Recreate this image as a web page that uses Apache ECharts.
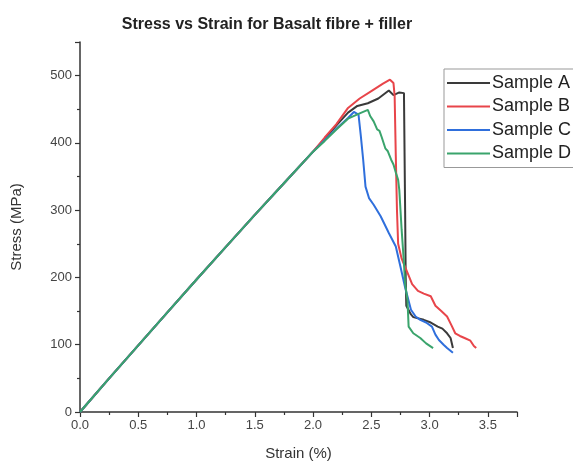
<!DOCTYPE html>
<html>
<head>
<meta charset="utf-8">
<script src="https://cdn.jsdelivr.net/npm/echarts@6/dist/echarts.min.js"></script>
<style>
  html, body { margin: 0; padding: 0; background: #fff; }
  #chart { width: 573px; height: 472px; }
</style>
</head>
<body>
<div id="chart"></div>
<script>
// Shared elastic region (strain %, stress MPa)
const baseStrain = [0, 0.25, 0.5, 0.75, 1.0, 1.25, 1.5, 1.75, 2.0];
const baseStress = [0, 50, 99, 148, 197, 245, 293, 340, 387];

// Sample A
const strainA = [2.1, 2.2, 2.3, 2.38, 2.47, 2.56, 2.65, 2.69, 2.74, 2.78, 2.79, 2.795, 2.80, 2.84, 2.86, 2.95, 3.01, 3.07, 3.11, 3.15, 3.18, 3.20];
const stressA = [406, 426, 445, 455, 459, 466, 478, 471, 475, 474, 300, 200, 158, 145, 141, 137, 133, 127, 124, 117, 110, 95];

// Sample B
const strainB = [2.1, 2.2, 2.3, 2.4, 2.5, 2.6, 2.66, 2.69, 2.70, 2.71, 2.72, 2.73, 2.76, 2.81, 2.85, 2.90, 2.95, 3.01, 3.05, 3.10, 3.15, 3.19, 3.22, 3.26, 3.30, 3.35, 3.38, 3.40];
const stressB = [408, 428, 452, 466, 477, 488, 494, 489, 470, 380, 300, 250, 228, 207, 190, 180, 176, 172, 158, 150, 142, 128, 117, 113, 110, 106, 98, 95];

// Sample C
const strainC = [2.1, 2.2, 2.3, 2.35, 2.39, 2.41, 2.43, 2.45, 2.48, 2.52, 2.58, 2.65, 2.71, 2.75, 2.79, 2.84, 2.88, 2.92, 2.97, 3.02, 3.05, 3.08, 3.12, 3.15, 3.20];
const stressC = [404, 421, 437, 446, 442, 410, 375, 335, 318, 308, 291, 266, 246, 216, 185, 152, 142, 137, 133, 127, 115, 107, 100, 95, 88];

// Sample D
const strainD = [2.1, 2.2, 2.3, 2.4, 2.47, 2.49, 2.52, 2.55, 2.57, 2.59, 2.62, 2.64, 2.67, 2.69, 2.71, 2.73, 2.74, 2.76, 2.78, 2.79, 2.81, 2.82, 2.86, 2.92, 2.97, 3.03];
const stressD = [403, 420, 436, 444, 449, 440, 432, 420, 418, 408, 392, 388, 375, 368, 356, 345, 330, 271, 221, 190, 167, 127, 117, 110, 102, 95];

const sampleNames = ['Sample A', 'Sample B', 'Sample C', 'Sample D'];
const sampleColors = ['#3a3a3a', '#e8454a', '#2f6fdc', '#3aa46c'];

function pairs(xs, ys) {
  const xAll = baseStrain.concat(xs);
  const yAll = baseStress.concat(ys);
  return xAll.map((x, i) => [x, yAll[i]]);
}

const sampleData = [
  pairs(strainA, stressA),
  pairs(strainB, stressB),
  pairs(strainC, stressC),
  pairs(strainD, stressD)
];

const axisColor = '#333';
const chart = echarts.init(document.getElementById('chart'), null, { renderer: 'canvas' });

chart.setOption({
  animation: false,
  backgroundColor: '#fff',
  title: {
    text: 'Stress vs Strain for Basalt fibre + filler',
    left: 262,
    textAlign: 'center',
    top: 12,
    textStyle: {
      fontFamily: 'Liberation Sans, Arial, sans-serif',
      fontWeight: 'bold',
      fontSize: 16,
      color: '#222'
    }
  },
  legend: {
    orient: 'vertical',
    left: 444,
    top: 69,
    padding: [5, 8, 5, 3],
    itemGap: 5.5,
    itemWidth: 43,
    itemHeight: 18,
    borderColor: '#999',
    borderWidth: 1,
    icon: 'path://M0,9 L43,9 L43,11 L0,11 Z',
    textStyle: {
      fontFamily: 'Liberation Sans, Arial, sans-serif',
      fontSize: 18,
      color: '#222',
      padding: [0, 0, 0, -3]
    },
    data: sampleNames
  },
  grid: {
    left: 80,
    right: 56,
    top: 42,
    bottom: 60
  },
  xAxis: {
    type: 'value',
    min: 0,
    max: 3.75,
    interval: 0.5,
    name: 'Strain (%)',
    nameLocation: 'middle',
    nameGap: 34,
    nameTextStyle: {
      fontFamily: 'Liberation Sans, Arial, sans-serif',
      fontSize: 15,
      color: '#333'
    },
    axisLine: { show: true, lineStyle: { color: axisColor, width: 1.5 } },
    axisTick: { show: true, length: 5, lineStyle: { color: axisColor, width: 1.2 } },
    minorTick: { show: true, splitNumber: 2, length: 3, lineStyle: { color: axisColor, width: 1.2 } },
    splitLine: { show: false },
    axisLabel: {
      fontFamily: 'Liberation Sans, Arial, sans-serif',
      fontSize: 13,
      color: '#444',
      margin: 7,
      showMaxLabel: false,
      formatter: v => v.toFixed(1)
    }
  },
  yAxis: {
    type: 'value',
    min: 0,
    max: 550,
    interval: 100,
    name: 'Stress (MPa)',
    nameLocation: 'middle',
    nameGap: 56,
    nameRotate: 90,
    nameTextStyle: {
      fontFamily: 'Liberation Sans, Arial, sans-serif',
      fontSize: 15,
      color: '#333'
    },
    axisLine: { show: true, lineStyle: { color: axisColor, width: 1.5 } },
    axisTick: { show: true, length: 5, lineStyle: { color: axisColor, width: 1.2 } },
    minorTick: { show: true, splitNumber: 2, length: 3, lineStyle: { color: axisColor, width: 1.2 } },
    splitLine: { show: false },
    axisLabel: {
      fontFamily: 'Liberation Sans, Arial, sans-serif',
      fontSize: 13,
      color: '#444',
      margin: 8,
      showMaxLabel: false
    }
  },
  series: sampleNames.map((name, i) => ({
    name: name,
    type: 'line',
    data: sampleData[i],
    showSymbol: false,
    symbol: 'none',
    smooth: false,
    lineStyle: { color: sampleColors[i], width: 2 },
    itemStyle: { color: sampleColors[i] },
    z: 2 + i
  }))
});
</script>
</body>
</html>
